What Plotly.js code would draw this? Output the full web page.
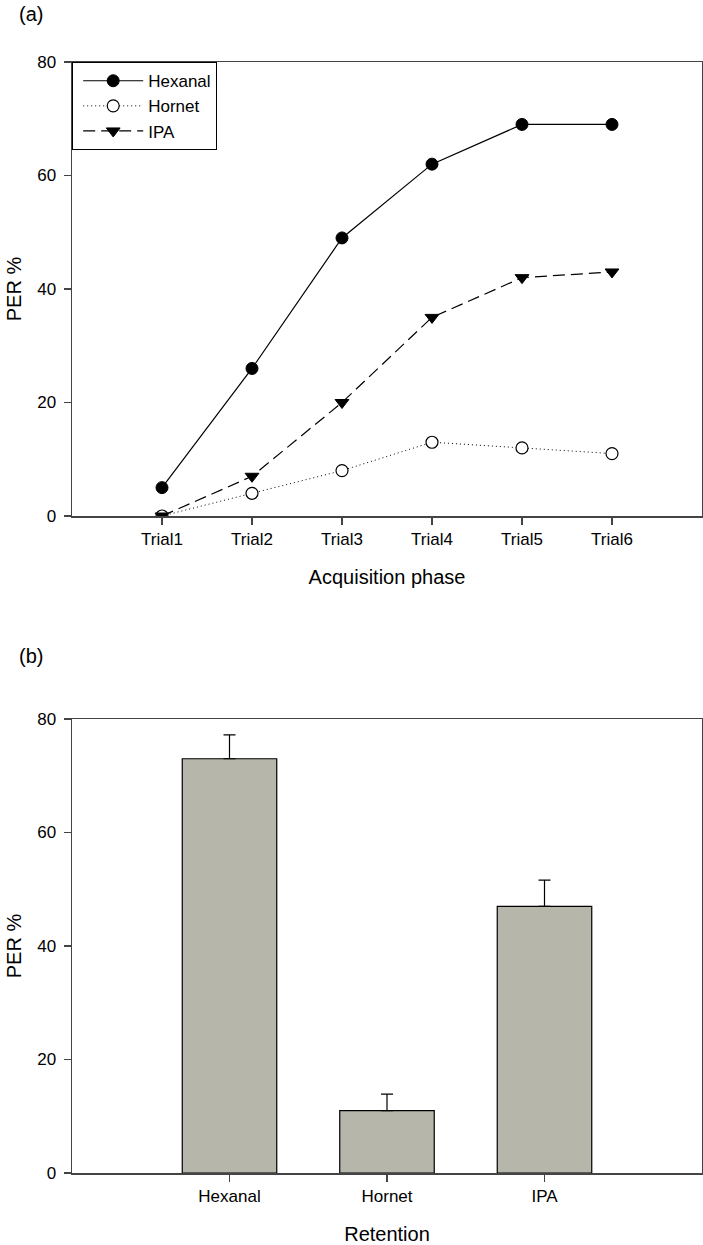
<!DOCTYPE html>
<html>
<head>
<meta charset="utf-8">
<script src="https://cdn.plot.ly/plotly-3.0.1.min.js"></script>
<style>html,body{margin:0;padding:0;background:#fff;}#chart{width:703px;height:1245px;}</style>
</head>
<body>
<div id="chart"></div>
<script>
// ---- data (a) acquisition phase ----
const trials = ["Trial1", "Trial2", "Trial3", "Trial4", "Trial5", "Trial6"];
const hexanal = [5, 26, 49, 62, 69, 69];
const hornet = [0, 4, 8, 13, 12, 11];
const ipa = [0, 7, 20, 35, 42, 43];

// ---- data (b) retention ----
const odours = ["Hexanal", "Hornet", "IPA"];
const retention = [73, 11, 47];
const retentionErr = [4.2, 2.9, 4.6];

const yTicks = [0, 20, 40, 60, 80];

const FONT = "Liberation Sans, Arial, sans-serif";
const W = 703, H = 1245;
const px = v => v / W;
const py = v => 1 - v / H;

const traces = [
  {x: trials, y: hexanal, name: "Hexanal", type: "scatter", mode: "lines+markers",
   xaxis: "x", yaxis: "y",
   line: {color: "#000", width: 1.2, dash: "solid"},
   marker: {symbol: "circle", size: 12, color: "#000", line: {color: "#000", width: 1}}},
  {x: trials, y: hornet, name: "Hornet", type: "scatter", mode: "lines+markers",
   xaxis: "x", yaxis: "y",
   line: {color: "#000", width: 1, dash: "1px,3px"},
   marker: {symbol: "circle", size: 12, color: "#fff", line: {color: "#000", width: 1.2}}},
  {x: trials, y: ipa, name: "IPA", type: "scatter", mode: "lines+markers",
   xaxis: "x", yaxis: "y",
   line: {color: "#000", width: 1.2, dash: "12px,6px"},
   marker: {symbol: "triangle-down", size: 12, color: "#000", line: {color: "#000", width: 1}}},
  {x: odours, y: retention, type: "bar", xaxis: "x2", yaxis: "y2", showlegend: false,
   width: 0.6,
   marker: {color: "#b6b6aa", line: {color: "#000", width: 1.2}},
   error_y: {type: "data", symmetric: false, array: retentionErr, arrayminus: [0, 0, 0],
             color: "#000", thickness: 1.2, width: 6}}
];

const axisCommon = {
  showgrid: false, zeroline: false, showline: true, mirror: true,
  linecolor: "#444", linewidth: 1.5,
  ticks: "outside", ticklen: 7, tickwidth: 1.2, tickcolor: "#444",
  tickfont: {family: FONT, size: 17, color: "#000"},
  automargin: false, fixedrange: true
};

const layout = {
  width: W, height: H,
  margin: {l: 0, r: 0, t: 0, b: 0},
  paper_bgcolor: "#fff", plot_bgcolor: "#fff",
  font: {family: FONT, color: "#000"},
  showlegend: true,
  legend: {
    x: px(72), y: py(62), xanchor: "left", yanchor: "top",
    bgcolor: "#fff", bordercolor: "#000", borderwidth: 1.2,
    font: {family: FONT, size: 17, color: "#000"},
    itemwidth: 60, indentation: 5, tracegroupgap: 0,
    entrywidth: 150, entrywidthmode: "pixels"
  },
  xaxis: Object.assign({}, axisCommon, {
    domain: [px(72), px(702)], anchor: "y", type: "category",
    range: [-1, 6], tickvals: trials, ticktext: trials,
    title: {text: "Acquisition phase", font: {family: FONT, size: 20, color: "#000"}, standoff: 22}
  }),
  yaxis: Object.assign({}, axisCommon, {
    domain: [py(516), py(62)], anchor: "x",
    range: [0, 80], tickvals: yTicks, ticklabelstandoff: 4,
    title: {text: "PER %", font: {family: FONT, size: 20, color: "#000"}, standoff: 10}
  }),
  xaxis2: Object.assign({}, axisCommon, {
    domain: [px(72), px(702)], anchor: "y2", type: "category",
    range: [-1, 3], tickvals: odours, ticktext: odours,
    title: {text: "Retention", font: {family: FONT, size: 20, color: "#000"}, standoff: 22}
  }),
  yaxis2: Object.assign({}, axisCommon, {
    domain: [py(1173), py(719)], anchor: "x2",
    range: [0, 80], tickvals: yTicks, ticklabelstandoff: 4,
    title: {text: "PER %", font: {family: FONT, size: 20, color: "#000"}, standoff: 10}
  }),
  annotations: [
    {text: "(a)", xref: "paper", yref: "paper", x: px(17), y: py(1), xanchor: "left", yanchor: "top",
     showarrow: false, font: {family: FONT, size: 20, color: "#000"}},
    {text: "(b)", xref: "paper", yref: "paper", x: px(17), y: py(643), xanchor: "left", yanchor: "top",
     showarrow: false, font: {family: FONT, size: 20, color: "#000"}}
  ]
};

Plotly.newPlot("chart", traces, layout, {displayModeBar: false, staticPlot: true});
</script>
</body>
</html>
